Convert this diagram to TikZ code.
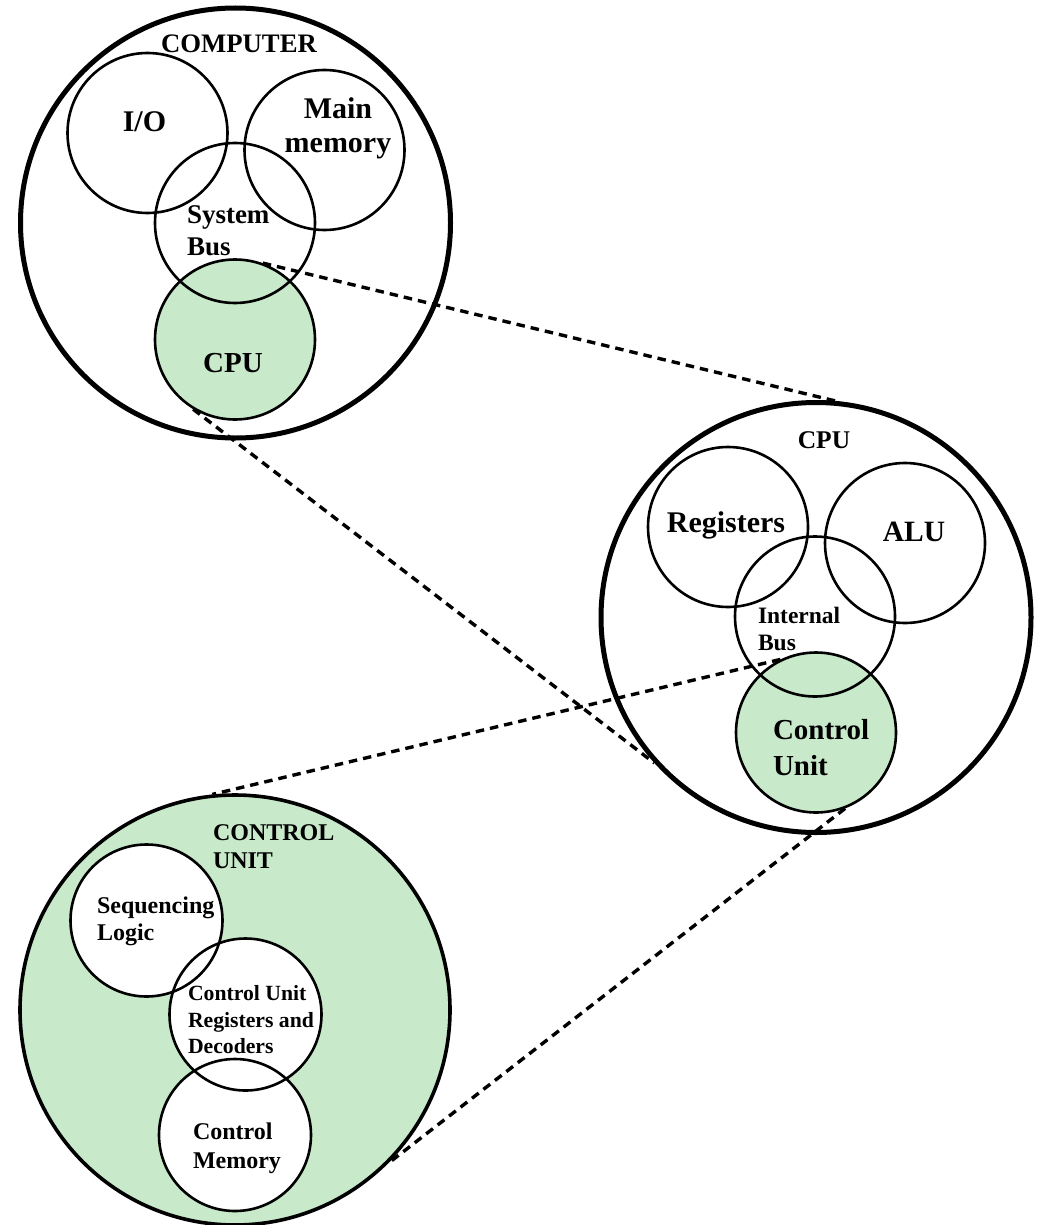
\documentclass[tikz,border=0pt]{standalone}
\usepackage{fontspec}
\setmainfont{Liberation Serif}
\usetikzlibrary{backgrounds}
\definecolor{cugreen}{RGB}{200,233,202}
\tikzset{
  bigcirc/.style={circle, draw, line width=5pt, minimum size=430pt, inner sep=0pt},
  cubigcirc/.style={circle, draw, line width=3.6pt, minimum size=430pt, inner sep=0pt},
  smallcirc/.style={circle, draw, line width=2.6pt, minimum size=160pt, inner sep=0pt},
  cusmall/.style={circle, draw, line width=2.6pt, minimum size=152pt, inner sep=0pt},
  zoomline/.style={line width=3.4pt, dash pattern=on 8.5pt off 6pt},
  lbl/.style={inner sep=0pt, outer sep=0pt},
}
\newcommand{\fs}[1]{\fontsize{#1pt}{#1pt}\selectfont\bfseries}
\begin{document}
\begin{tikzpicture}[x=1pt,y=-1pt]
\useasboundingbox (0,0) rectangle (1041,1225);

% COMPUTER group
\node[bigcirc] (comp) at (235.5,223) {};
\node[smallcirc] (io) at (147.5,133) {};
\node[smallcirc] (mm) at (324.5,150) {};
\node[smallcirc] (sbus) at (235,223) {};
\node[smallcirc] (cpu) at (235,339.5) {};

% CPU group
\node[bigcirc] (bigcpu) at (816,617.5) {};
\node[smallcirc] (regs) at (728,527) {};
\node[smallcirc] (alu) at (905,543) {};
\node[smallcirc] (ibus) at (815,616.5) {};
\node[smallcirc] (cu) at (816,732.5) {};

% CONTROL UNIT group
\node[cubigcirc] (cubig) at (235,1010) {};
\node[cusmall] (seq) at (146.5,920.5) {};
\node[cusmall] (cureg) at (245.5,1014.5) {};
\node[cusmall] (cmem) at (235,1135) {};

\begin{pgfonlayer}{background}
  \fill[cugreen] (cpu.center) circle[radius=80pt];
  \fill[cugreen] (cu.center) circle[radius=80pt];
  \fill[cugreen] (cubig.center) circle[radius=215pt];
  \fill[white] (seq.center) circle[radius=76pt];
  \fill[white] (cureg.center) circle[radius=76pt];
  \fill[white] (cmem.center) circle[radius=76pt];
\end{pgfonlayer}

% labels
\node[lbl, anchor=base, font=\fs{26.7}] (tcomp) at (239,53) {COMPUTER};
\node[lbl, anchor=base, font=\fs{30}] (tio) at (144.5,132) {I/O};
\node[lbl, anchor=base, font=\fs{30}] (tmain) at (338,119) {Main};
\node[lbl, anchor=base, font=\fs{30}] (tmem) at (338,153) {memory};
\node[lbl, anchor=base west, font=\fs{27}] (tsys) at (187,223) {System};
\node[lbl, anchor=base west, font=\fs{27}] (tsbus) at (187,255) {Bus};
\node[lbl, anchor=base, font=\fs{29}] (tcpu) at (233,372) {CPU};

\node[lbl, anchor=base, font=\fs{25.5}] (tcpu2) at (824,448) {CPU};
\node[lbl, anchor=base, font=\fs{30}] (tregs) at (726,532) {Registers};
\node[lbl, anchor=base, font=\fs{29.5}] (talu) at (914,541) {ALU};
\node[lbl, anchor=base west, font=\fs{23.5}] (tint) at (758,623) {Internal};
\node[lbl, anchor=base west, font=\fs{23.5}] (tibus) at (758,650) {Bus};
\node[lbl, anchor=base west, font=\fs{29}] (tctl) at (773,739) {Control};
\node[lbl, anchor=base west, font=\fs{29}] (tunit) at (773,775) {Unit};

\node[lbl, anchor=base west, font=\fs{24}] (tcontrol) at (213,840) {CONTROL};
\node[lbl, anchor=base west, font=\fs{24}] (tUNIT) at (213,868) {UNIT};
\node[lbl, anchor=base west, font=\fs{24}] (tseq) at (97,913) {Sequencing};
\node[lbl, anchor=base west, font=\fs{24}] (tlogic) at (97,940) {Logic};
\node[lbl, anchor=base west, font=\fs{21.7}] (tcu1) at (188,1000) {Control Unit};
\node[lbl, anchor=base west, font=\fs{21.7}] (tcu2) at (188,1027) {Registers and};
\node[lbl, anchor=base west, font=\fs{21.7}] (tcu3) at (188,1053) {Decoders};
\node[lbl, anchor=base west, font=\fs{24}] (tcm1) at (193,1139) {Control};
\node[lbl, anchor=base west, font=\fs{24}] (tcm2) at (193,1168) {Memory};

% zoom connectors
\draw[zoomline] (cpu.70.4) -- (bigcpu.85.8);
\draw[zoomline] (cpu.239.2) -- (bigcpu.222);
\draw[zoomline] (cu.116.4) -- (cubig.96.1);
\draw[zoomline] (cu.291.7) -- (cubig.315.6);
\end{tikzpicture}
\end{document}
